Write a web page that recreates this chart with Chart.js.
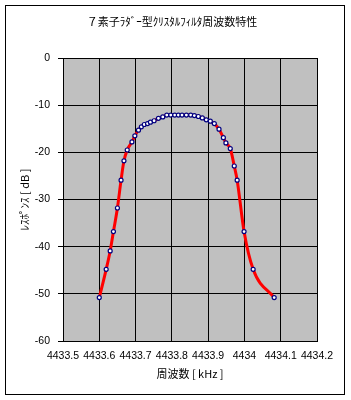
<!DOCTYPE html>
<html>
<head>
<meta charset="utf-8">
<script src="https://cdn.jsdelivr.net/npm/chart.js@4/dist/chart.umd.min.js"></script>
<style>
  body { margin: 0; background: #fff; }
</style>
</head>
<body>
<canvas id="filterChart" width="351" height="400"></canvas>
<script>
// 7-element ladder crystal filter response
const chartTitle = "７素子ﾗﾀﾞｰ型ｸﾘｽﾀﾙﾌｨﾙﾀ周波数特性";
const xTitle = "周波数 [ kHz ]";
const yTitle = "ﾚｽﾎﾟﾝｽ [ dB ]";

const freqKHz = [4433.600, 4433.619, 4433.630, 4433.639, 4433.650, 4433.660, 4433.668, 4433.677,
  4433.690, 4433.698, 4433.708, 4433.716, 4433.724, 4433.733, 4433.741, 4433.751, 4433.763,
  4433.775, 4433.786, 4433.797, 4433.808, 4433.818, 4433.828, 4433.840, 4433.852, 4433.862,
  4433.873, 4433.884, 4433.895, 4433.906, 4433.917, 4433.930, 4433.942, 4433.949, 4433.961,
  4433.972, 4433.980, 4433.999, 4434.024, 4434.082];
const responseDb = [-50.8, -44.8, -40.9, -36.8, -31.8, -25.9, -21.8, -19.5,
  -17.8, -16.5, -15.3, -14.6, -14.1, -13.9, -13.6, -13.3, -12.8,
  -12.5, -12.1, -12.1, -12.1, -12.1, -12.1, -12.1, -12.1, -12.2,
  -12.4, -12.7, -13.1, -13.4, -13.9, -15.1, -16.9, -18.0, -19.2,
  -22.9, -25.9, -36.8, -44.8, -50.8];

const xTicks = [4433.5, 4433.6, 4433.7, 4433.8, 4433.9, 4434, 4434.1, 4434.2];
const yTicks = [0, -10, -20, -30, -40, -50, -60];

const tickFont = { family: "'Liberation Sans', Arial, sans-serif", size: 10.5 };
const jpFont = { family: "'Noto Sans CJK JP', sans-serif", size: 11 };

const frame = {
  id: "frame",
  beforeDraw(chart) {
    const { ctx, chartArea: a } = chart;
    ctx.save();
    ctx.fillStyle = "#c0c0c0";
    ctx.fillRect(a.left, a.top, a.right - a.left, a.bottom - a.top);
    ctx.restore();
  },
  afterDraw(chart) {
    const ctx = chart.ctx;
    ctx.save();
    ctx.strokeStyle = "#000";
    ctx.lineWidth = 1;
    ctx.strokeRect(5.5, 5.5, 339, 389);
    ctx.fillStyle = "#000";
    ctx.font = "11px 'Noto Sans CJK JP', sans-serif";
    ctx.textAlign = "center";
    ctx.textBaseline = "middle";
    ctx.fillText(chartTitle, 172, 22);
    ctx.restore();
  }
};

const ctx = document.getElementById("filterChart").getContext("2d");
const chart = new Chart(ctx, {
  type: "line",
  data: {
    datasets: [
      {
        label: "response",
        data: freqKHz.map((f, i) => ({ x: f, y: responseDb[i] })),
        borderColor: "#ff0000",
        borderWidth: 3,
        cubicInterpolationMode: "monotone",
        pointRadius: 2,
        pointBorderWidth: 1.2,
        pointBorderColor: "#000080",
        pointBackgroundColor: "#ffffff",
      },
    ],
  },
  options: {
    responsive: false,
    animation: false,
    layout: { padding: { top: 58, right: 34, bottom: 0, left: 0 } },
    plugins: {
      legend: { display: false },
      tooltip: { enabled: false },
    },
    scales: {
      x: {
        type: "linear",
        min: 4433.5,
        max: 4434.2,
        afterBuildTicks: (scale) => { scale.ticks = xTicks.map((v) => ({ value: v })); },
        afterFit: (scale) => { scale.height = 59; },
        ticks: {
          color: "#000",
          font: tickFont,
          padding: 9,
          maxRotation: 0,
          autoSkip: false,
          callback: (v) => String(v),
        },
        grid: { color: "#000", lineWidth: 1, drawTicks: false },
        border: { color: "#000", width: 1 },
        title: { display: true, text: xTitle, color: "#000", font: jpFont, padding: { top: 0, bottom: 20 } },
      },
      y: {
        min: -60,
        max: 0,
        afterBuildTicks: (scale) => { scale.ticks = yTicks.map((v) => ({ value: v })); },
        afterFit: (scale) => { scale.width = 63; },
        ticks: { color: "#000", font: tickFont, padding: 8 },
        grid: { color: "#000", lineWidth: 1, drawTicks: true, tickLength: 5, tickColor: "#000" },
        border: { color: "#000", width: 1 },
        title: { display: true, text: yTitle, color: "#000", font: jpFont, padding: { top: 18, bottom: 0 } },
      },
    },
  },
  plugins: [frame],
});
</script>
</body>
</html>
